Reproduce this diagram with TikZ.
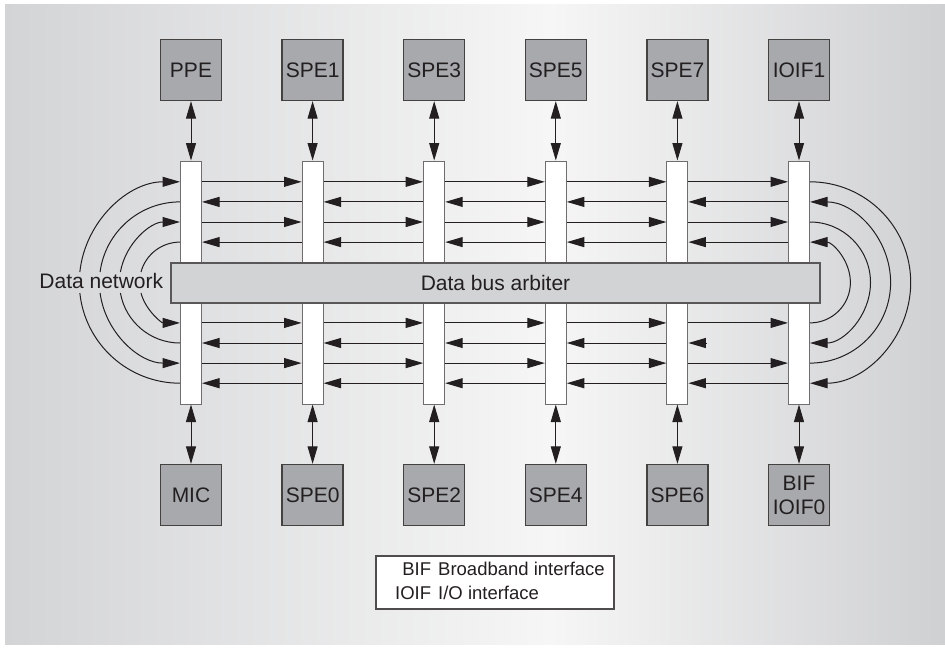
\documentclass[tikz,border=0pt]{standalone}
\usepackage{fontspec}
\setmainfont{Liberation Sans}
\usetikzlibrary{arrows.meta}
\definecolor{ink}{RGB}{35,31,32}
\definecolor{boxgray}{RGB}{167,169,172}
\definecolor{arbgray}{RGB}{209,211,212}
\definecolor{bgL}{RGB}{211,212,214}
\definecolor{bgM}{RGB}{246,246,246}
\definecolor{bgR}{RGB}{207,208,210}
\pgfdeclarehorizontalshading{bgshade}{100bp}{color(0bp)=(bgL); color(25bp)=(bgL); color(54bp)=(bgM); color(75bp)=(bgR); color(100bp)=(bgR)}
\begin{document}
\begin{tikzpicture}[x=1pt,y=1pt,
  >={Triangle[length=17.5pt,width=10pt]},
  conn/.style={draw=ink, line width=1pt},
  blockbox/.style={draw=ink!85, line width=1.3pt, fill=boxgray, minimum width=61pt, minimum height=61pt, inner sep=0pt, font=\fontsize{21}{24}\selectfont, text=ink, align=center},
  busbar/.style={draw=ink!65, line width=1pt, fill=white, minimum width=21pt, minimum height=243pt, inner sep=0pt},
  arbiter/.style={draw=ink!75, line width=1.3pt, fill=arbgray, minimum width=649pt, minimum height=40pt, inner sep=0pt, font=\fontsize{21}{24}\selectfont, text=ink},
  legendbox/.style={draw=ink!80, line width=1.1pt, fill=white, minimum width=238pt, minimum height=53pt, inner sep=0pt},
  lbl/.style={font=\fontsize{21}{24}\selectfont, text=ink, inner sep=0pt}]
\useasboundingbox (0,0) rectangle (945,-649);
\fill[white] (0,0) rectangle (945,-649);
\shade[shading=bgshade] (5,-4) rectangle (945,-644);

% row coordinates
\coordinate (r1) at (0,-181.8);
\coordinate (r2) at (0,-201.9);
\coordinate (r3) at (0,-222.0);
\coordinate (r4) at (0,-242.1);
\coordinate (r5) at (0,-322.9);
\coordinate (r6) at (0,-343.0);
\coordinate (r7) at (0,-363.1);
\coordinate (r8) at (0,-383.2);

% bars
\foreach \i/\x in {1/191,2/312.6,3/434.2,4/555.8,5/677.4,6/799}
  \node[busbar] (b\i) at (\x,-282.5) {};

% horizontal arrows
\foreach \i [evaluate=\i as \j using int(\i+1)] in {1,...,5} {
  \foreach \r in {1,3,5,7}
    \draw[conn,->] (b\i.east |- r\r) -- (b\j.west |- r\r);
  \foreach \r in {2,4,8}
    \draw[conn,<-] (b\i.east |- r\r) -- (b\j.west |- r\r);
}
\foreach \i [evaluate=\i as \j using int(\i+1)] in {1,...,4}
  \draw[conn,<-] (b\i.east |- r6) -- (b\j.west |- r6);
\path (b5.east |- r6) ++(19,0) coordinate (r6stub);
\draw[conn,<-] (b5.east |- r6) -- (r6stub);

% left arcs (broken around the label)
\draw[conn,<-] (b1.west |- r1) arc[start angle=90, end angle={180-asin(10.5/100.7)}, radius=100.7pt];
\draw[conn] (b1.west |- r8) arc[start angle=270, end angle={180+asin(10.5/100.7)}, radius=100.7pt];
\draw[conn] (b1.west |- r2) arc[start angle=90, end angle={180-asin(10.5/80.6)}, radius=80.6pt];
\draw[conn,<-] (b1.west |- r7) arc[start angle=270, end angle={180+asin(10.5/80.6)}, radius=80.6pt];
\draw[conn,<-] (b1.west |- r3) arc[start angle=90, end angle={180-asin(10.5/60.5)}, radius=60.5pt];
\draw[conn] (b1.west |- r6) arc[start angle=270, end angle={180+asin(10.5/60.5)}, radius=60.5pt];
\draw[conn] (b1.west |- r4) arc[start angle=90, end angle={180-asin(10.5/40.4)}, radius=40.4pt];
\draw[conn,<-] (b1.west |- r5) arc[start angle=270, end angle={180+asin(10.5/40.4)}, radius=40.4pt];

% right arcs
\draw[conn,->] (b6.east |- r1) arc[start angle=90, end angle=-90, radius=100.7pt];
\draw[conn,->] (b6.east |- r7) arc[start angle=-90, end angle=90, radius=80.6pt];
\draw[conn,->] (b6.east |- r3) arc[start angle=90, end angle=-90, radius=60.5pt];
\draw[conn,->] (b6.east |- r5) arc[start angle=-90, end angle=90, radius=40.4pt];

\node[lbl, anchor=base] (dn) at (101.3,-288.3) {Data network};

% arbiter
\node[arbiter] (arb) at (495.5,-283) {Data bus arbiter};

% top and bottom units
\foreach \i/\x/\t in {1/191/PPE,2/312.6/SPE1,3/434.2/SPE3,4/555.8/SPE5,5/677.4/SPE7,6/799/IOIF1}{
  \node[blockbox] (t\i) at (\x,-70) {\t};
  \draw[conn,<->] (t\i) -- (b\i);
}
\foreach \i/\x/\t in {1/191/MIC,2/312.6/SPE0,3/434.2/SPE2,4/555.8/SPE4,5/677.4/SPE6,6/799/{BIF\\IOIF0}}{
  \node[blockbox] (u\i) at (\x,-495) {\t};
  \draw[conn,<->] (b\i) -- (u\i);
}

% legend
\node[legendbox] (leg) at (495,-582.5) {};
\node[inner sep=0pt, text=ink, font=\fontsize{18.5}{24.3}\selectfont] (legtext) at ([xshift=5pt]leg.center)
  {\begin{tabular}{@{}r@{\hspace{7pt}}l@{}}BIF & Broadband interface\\ IOIF & I/O interface\end{tabular}};
\end{tikzpicture}
\end{document}
